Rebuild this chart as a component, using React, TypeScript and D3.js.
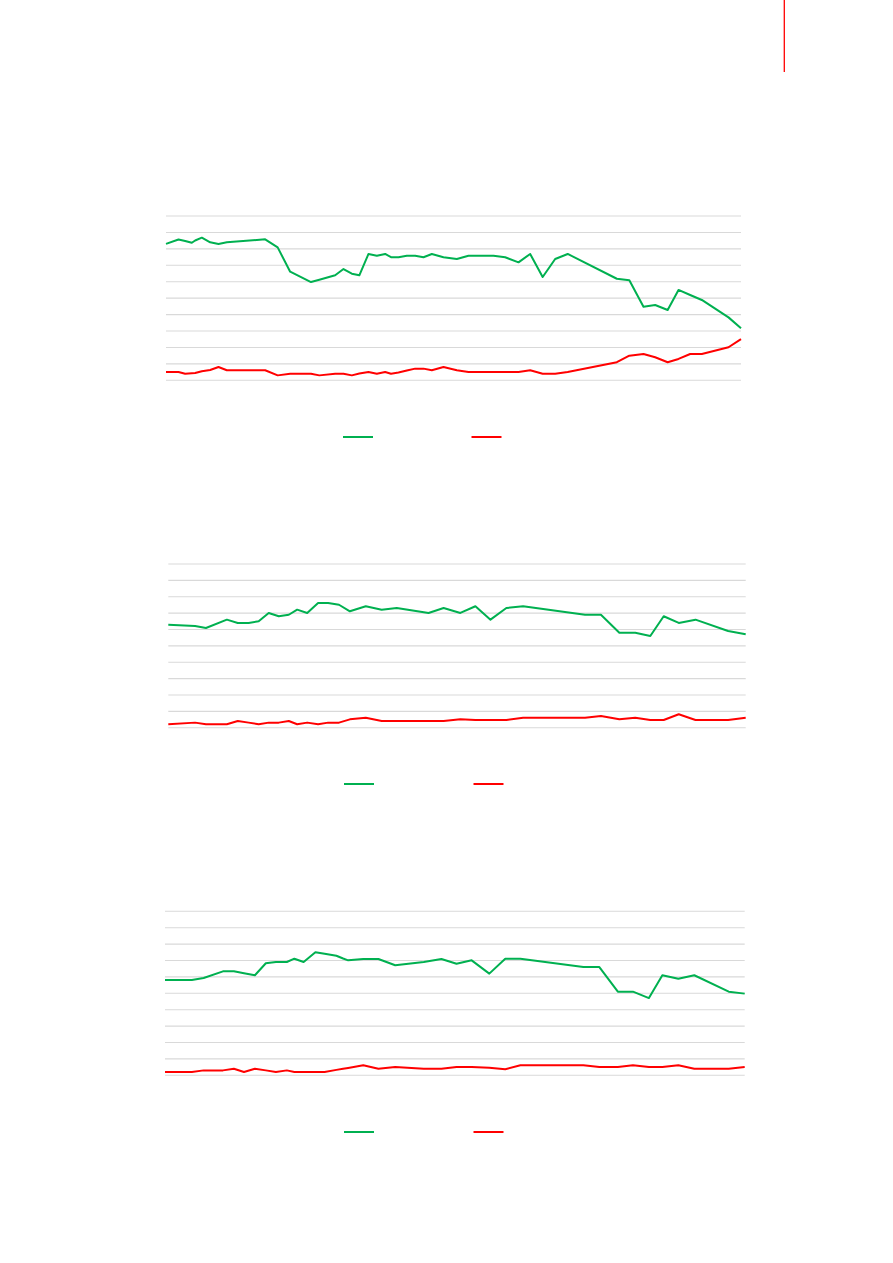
import React from "react";
import * as d3 from "d3";

// ---- data (x = period index, y = value on a 0–100 scale) ----
const c1T = [0,1.5,2.3,3.1,3.5,4.3,5.3,6.3,7.3,11.9,13.4,14.9,17.4,18.4,20.3,21.3,22.3,23.2,24.3,25.3,26.3,27.0,27.9,28.9,29.9,30.9,31.9,33.3,34.9,36.3,39.3,40.7,42.3,43.7,45.2,46.7,48.2,54.1,55.6,57.3,58.7,60.2,61.5,62.9,64.3,67.5,69];
const c1Green = [83.0,85.7,84.8,83.7,85.1,86.8,84.0,83.0,84.0,85.8,80.9,66.1,59.8,61.2,63.9,67.7,64.9,63.9,76.9,75.8,76.9,74.9,74.9,75.8,75.8,74.9,76.9,74.9,73.8,75.8,75.8,74.9,71.8,76.9,62.9,73.8,76.9,61.8,60.9,44.8,45.8,42.8,55.0,51.9,48.9,38.3,31.7];
const c1Red = [5.1,5.1,4.0,4.3,4.4,5.5,6.3,8.1,6.1,6.1,3.0,4.0,4.0,3.0,4.0,4.0,3.0,4.1,5.1,4.0,5.1,4.0,4.7,6.0,7.1,7.1,6.1,8.1,6.1,5.1,5.1,5.1,5.1,6.1,4.0,4.0,5.1,11.0,15.0,16.0,14.0,11.0,13.0,16.0,16.0,20.1,25.1];

const c2T = [0,3.2,4.5,7.0,8.3,9.6,10.8,12.0,13.2,14.4,15.4,16.6,17.9,19.1,20.4,21.7,23.6,25.5,27.3,31.1,32.9,34.9,36.7,38.5,40.4,42.4,49.8,51.7,53.9,55.8,57.6,59.2,61.0,63.0,66.9,69];
const c2Green = [62.9,62.1,60.9,66.0,64.0,64.0,65.0,70.1,68.1,69.0,72.1,70.1,76.2,76.2,75.1,71.1,74.2,72.1,73.1,70.1,73.1,70.1,74.2,66.0,73.1,74.2,69.0,69.0,58.0,58.0,56.0,68.1,64.0,66.0,59.1,57.1];
const c2Red = [2.1,3.1,2.1,2.1,4.1,3.1,2.1,3.1,3.1,4.1,2.1,3.1,2.1,3.1,3.1,5.1,6.1,4.1,4.1,4.1,4.1,5.1,4.7,4.7,4.7,6.1,6.1,7.1,5.1,6.1,4.7,4.7,8.2,4.7,4.7,6.1];

const c3T = [0,3.2,4.6,6.9,8.2,9.4,10.7,12.0,13.2,14.5,15.4,16.5,17.9,19.0,20.4,21.2,21.8,23.6,25.4,27.4,30.8,32.9,34.7,36.5,38.6,40.5,42.3,49.8,51.7,53.9,55.7,57.6,59.2,61.1,63.0,67.1,69];
const c3Green = [58.1,58.1,59.3,63.4,63.4,62.2,61.0,68.3,69.1,69.1,71.1,69.1,75.0,74.1,72.9,71.2,70.1,70.9,70.9,67.1,69.1,70.9,68.0,70.1,62.0,71.1,71.1,66.0,66.0,51.0,51.0,47.1,61.0,58.9,61.0,51.0,49.8];
const c3Red = [2.0,2.0,3.0,3.0,4.0,2.0,4.0,3.0,2.0,3.0,2.0,2.0,2.0,2.0,3.3,4.0,4.5,6.1,4.0,5.1,4.0,4.0,5.1,5.1,4.6,3.7,6.1,6.1,5.1,5.1,6.1,5.1,5.1,6.1,4.0,4.0,5.1];

const yTicks = [0, 10, 20, 30, 40, 50, 60, 70, 80, 90, 100];
const xDomain = [0, 69];
const GREEN = "#00b050";
const RED = "#ff0000";

type ChartProps = {
  t: number[];
  green: number[];
  red: number[];
  x0: number; x1: number; yTop: number; yBot: number;
  legendY: number; legendGreenX: number; legendRedX: number;
};

function Chart({ t, green, red, x0, x1, yTop, yBot, legendY, legendGreenX, legendRedX }: ChartProps) {
  const x = d3.scaleLinear().domain(xDomain).range([x0, x1]);
  const y = d3.scaleLinear().domain([0, 100]).range([yBot, yTop]);
  const line = d3.line<number>().x((_, i) => x(t[i])).y((d) => y(d));
  return (
    <g>
      {yTicks.map((v) => (
        <line key={v} x1={x0} x2={x1} y1={y(v)} y2={y(v)} stroke="#d9d9d9" strokeWidth={1.1} />
      ))}
      <path d={line(green) || ""} fill="none" stroke={GREEN} strokeWidth={2} strokeLinejoin="round" />
      <path d={line(red) || ""} fill="none" stroke={RED} strokeWidth={2} strokeLinejoin="round" />
      <line x1={legendGreenX} x2={legendGreenX + 30} y1={legendY} y2={legendY} stroke={GREEN} strokeWidth={2} />
      <line x1={legendRedX} x2={legendRedX + 30} y1={legendY} y2={legendY} stroke={RED} strokeWidth={2} />
    </g>
  );
}

export default function App() {
  return (
    <svg width={893} height={1263} style={{ position: "absolute", left: 0, top: 0, background: "#fff" }}>
      <rect x={0} y={0} width={893} height={1263} fill="#fff" />
      <line x1={784.3} x2={784.3} y1={0} y2={72} stroke={RED} strokeWidth={1.3} />
      <Chart t={c1T} green={c1Green} red={c1Red} x0={166} x1={741} yTop={216} yBot={380.3}
        legendY={437} legendGreenX={343} legendRedX={471.5} />
      <Chart t={c2T} green={c2Green} red={c2Red} x0={168.3} x1={745.7} yTop={564} yBot={727.7}
        legendY={784} legendGreenX={344} legendRedX={473.5} />
      <Chart t={c3T} green={c3Green} red={c3Red} x0={165} x1={744.7} yTop={911.3} yBot={1075.3}
        legendY={1132} legendGreenX={344} legendRedX={473.5} />
    </svg>
  );
}
